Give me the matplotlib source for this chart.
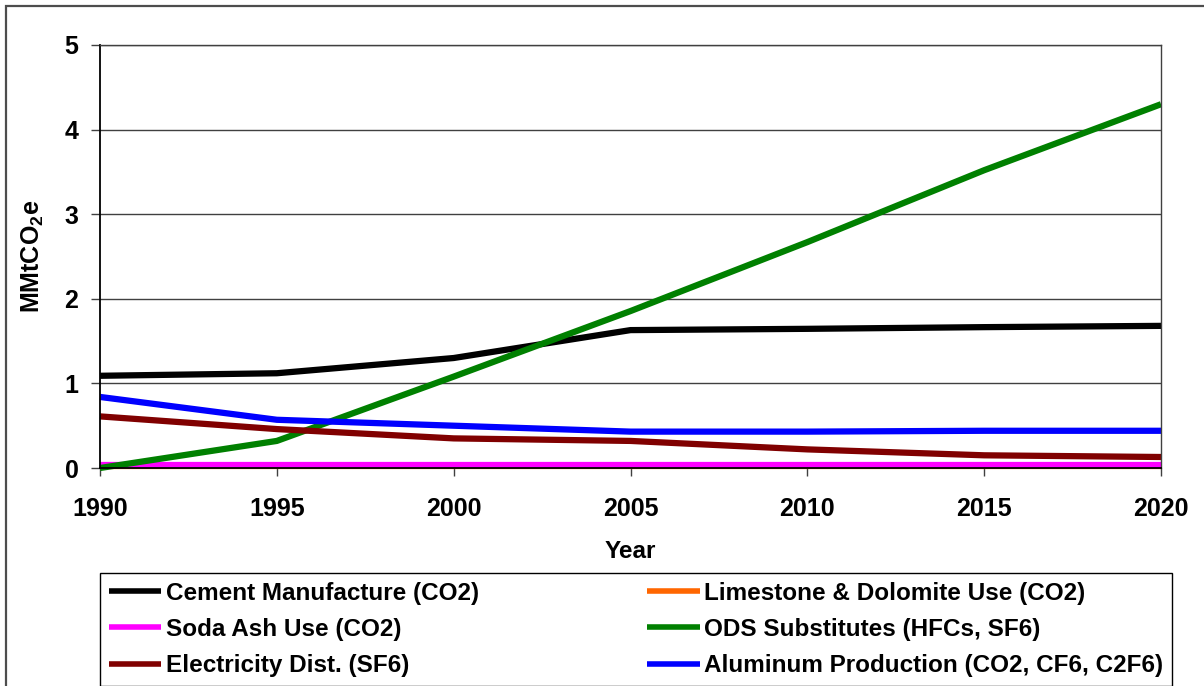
import matplotlib.pyplot as plt
from matplotlib.patches import Rectangle

plt.rcParams['font.family'] = ['Liberation Sans', 'DejaVu Sans']
plt.rcParams['font.weight'] = 'bold'
plt.rcParams['mathtext.fontset'] = 'custom'
plt.rcParams['mathtext.rm'] = 'Liberation Sans:bold'
plt.rcParams['mathtext.bf'] = 'Liberation Sans:bold'
plt.rcParams['mathtext.default'] = 'bf'

anos = [1990, 1995, 2000, 2005, 2010, 2015, 2020]

cimento = [1.09, 1.12, 1.30, 1.63, 1.645, 1.665, 1.68]
calcario = [0.02, 0.02, 0.02, 0.02, 0.02, 0.02, 0.02]
barrilha = [0.03, 0.03, 0.03, 0.03, 0.03, 0.03, 0.03]
ods = [0.0, 0.32, 1.08, 1.855, 2.67, 3.52, 4.30]
eletricidade = [0.61, 0.46, 0.35, 0.32, 0.22, 0.15, 0.13]
aluminio = [0.84, 0.57, 0.50, 0.43, 0.43, 0.44, 0.44]

series = [
    ('Cement Manufacture (CO2)', cimento, '#000000'),
    ('Limestone & Dolomite Use (CO2)', calcario, '#FF6600'),
    ('Soda Ash Use (CO2)', barrilha, '#FF00FF'),
    ('ODS Substitutes (HFCs, SF6)', ods, '#008000'),
    ('Electricity Dist. (SF6)', eletricidade, '#800000'),
    ('Aluminum Production (CO2, CF6, C2F6)', aluminio, '#0000FF'),
]

W, H = 1204, 686
fig = plt.figure(figsize=(W / 100, H / 100), dpi=100)
fig.patches.append(Rectangle((5.5 / W, -0.05), 1.2, (H - 5.5) / H + 0.05,
                             transform=fig.transFigure, fill=False,
                             edgecolor='0.3', linewidth=1.6))

ax = fig.add_axes([100 / W, (H - 468) / H, 1061 / W, 423 / H])

linhas = {}
for nome, valores, cor in series:
    l, = ax.plot(anos, valores, color=cor, linewidth=4.5, label=nome,
                 clip_on=False, solid_capstyle='butt')
    linhas[nome] = l

ax.set_xlim(1990, 2020)
ax.set_ylim(0, 5)
ax.set_xticks(anos)
ax.set_yticks(range(0, 6))
ax.yaxis.grid(True, color='0.25', linewidth=1.0)
ax.set_axisbelow(True)

for lado in ['left', 'bottom']:
    ax.spines[lado].set_color('black')
    ax.spines[lado].set_linewidth(1.3)
for lado in ['top', 'right']:
    ax.spines[lado].set_color('0.25')
    ax.spines[lado].set_linewidth(1.0)

ax.tick_params(axis='y', length=6.5, width=1, color='0.25', pad=9, labelsize=18)
ax.tick_params(axis='x', length=6, width=1, color='0.25', pad=15, labelsize=18)
for t in ax.get_xticklabels() + ax.get_yticklabels():
    t.set_fontweight('bold')

ax.set_xlabel('Year', fontsize=17.5, fontweight='bold')
ax.xaxis.set_label_coords(0.5, -(540 - 468) / 423)
ax.set_ylabel(r'MMtCO$_{\mathbf{2}}$e', fontsize=18, fontweight='bold')
ax.yaxis.set_label_coords(-(100 - 46) / 1061, 0.5)

# legenda em duas colunas, preenchida por coluna
ordem = ['Cement Manufacture (CO2)', 'Soda Ash Use (CO2)', 'Electricity Dist. (SF6)',
         'Limestone & Dolomite Use (CO2)', 'ODS Substitutes (HFCs, SF6)',
         'Aluminum Production (CO2, CF6, C2F6)']
leg = fig.legend([linhas[n] for n in ordem], ordem, ncol=2,
                 loc='upper left', mode='expand',
                 bbox_to_anchor=(100 / W, (H - 683) / H, 1072 / W, 110 / H),
                 borderaxespad=0, fancybox=False, framealpha=1,
                 edgecolor='black',
                 handlelength=2.15, handletextpad=0.2, borderpad=0.35,
                 labelspacing=0.55, prop={'weight': 'bold', 'size': 17.5})
leg.get_frame().set_linewidth(1.0)
for l in leg.get_lines():
    l.set_linewidth(4.0)

fig.savefig('out.png', dpi=100)
